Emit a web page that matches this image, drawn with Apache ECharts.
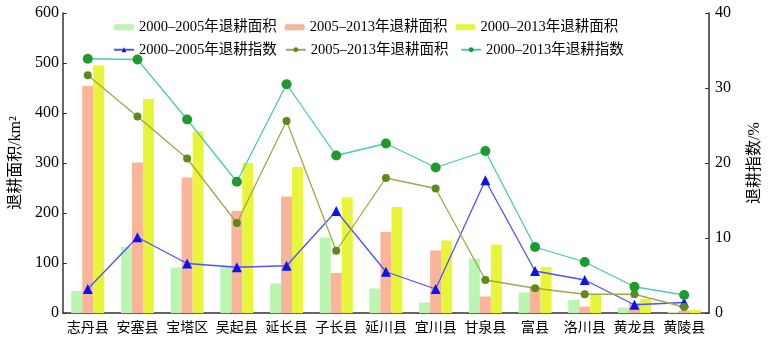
<!DOCTYPE html>
<html><head><meta charset="utf-8">
<script src="https://cdn.jsdelivr.net/npm/echarts@6/dist/echarts.min.js"></script>
<style>html,body{margin:0;padding:0;background:#fff}#c{width:771px;height:349px}</style>
</head><body><div id="c"></div>
<script>
const categories = ['志丹县','安塞县','宝塔区','吴起县','延长县','子长县','延川县','宜川县','甘泉县','富县','洛川县','黄龙县','黄陵县'];
const area0005 = [44,132,91,95,59,151,49,21,109,41,26,11,2];
const area0513 = [454,301,271,204,233,80,162,125,33,53,13,20,5];
const area0013 = [495,428,363,300,292,231,212,145,137,92,38,28,6];
const idx0005 = [3.2,10.1,6.6,6.1,6.3,13.6,5.5,3.2,17.7,5.6,4.4,1.1,1.4];
const idx0513 = [31.7,26.2,20.6,12.0,25.6,8.3,18.0,16.6,4.4,3.3,2.5,2.5,0.8];
const idx0013 = [33.9,33.8,25.8,17.5,30.5,21.0,22.6,19.4,21.6,8.8,6.8,3.5,2.4];
const leftTicks = {min:0,max:600,interval:100};
const rightTicks = {min:0,max:40,interval:10};
const names = ['2000–2005年退耕面积','2005–2013年退耕面积','2000–2013年退耕面积','2000–2005年退耕指数','2005–2013年退耕面积 ','2000–2013年退耕指数'];

const FONT = '"Liberation Serif","Noto Sans CJK SC",serif';
const chart = echarts.init(document.getElementById('c'));
const barCommon = {type:'bar', yAxisIndex:0, barWidth:11, barGap:'0%'};
chart.setOption({
  animation:false,
  textStyle:{fontFamily:FONT,color:'#000'},
  legend:{
    left:108, top:15, width:520, itemGap:8, itemWidth:20, itemHeight:6,
    textStyle:{fontFamily:FONT,fontSize:14.5,color:'#000'},
    data:[
      {name:names[0]},{name:names[1]},{name:names[2]},
      {name:names[3]},{name:names[4]},{name:names[5]}
    ]
  },
  grid:{left:62,right:58,top:13,bottom:36},
  xAxis:{
    type:'category', data:categories,
    axisLine:{lineStyle:{color:'#333',width:1.5}},
    axisTick:{inside:true,length:5,lineStyle:{color:'#333'}},
    axisLabel:{fontFamily:FONT,fontSize:14,color:'#000',margin:8,interval:0}
  },
  yAxis:[
    {type:'value', ...leftTicks, name:'退耕面积/km²', nameLocation:'middle', nameGap:38, nameRotate:90,
     nameTextStyle:{fontFamily:FONT,fontSize:16,color:'#000'},
     axisLine:{show:true,lineStyle:{color:'#333',width:1.5}},
     axisTick:{show:true,inside:true,length:4,lineStyle:{color:'#333'}},
     splitLine:{show:false},
     axisLabel:{fontFamily:FONT,fontSize:16,color:'#000',margin:4}},
    {type:'value', ...rightTicks, name:'退耕指数/%', nameLocation:'middle', nameGap:38, nameRotate:90,
     nameTextStyle:{fontFamily:FONT,fontSize:16,color:'#000'},
     axisLine:{show:true,lineStyle:{color:'#333',width:1.5}},
     axisTick:{show:true,inside:true,length:4,lineStyle:{color:'#333'}},
     splitLine:{show:false},
     axisLabel:{fontFamily:FONT,fontSize:16,color:'#000',margin:6}}
  ],
  series:[
    {...barCommon, name:names[0], data:area0005, itemStyle:{color:'#baf5b2'}},
    {...barCommon, name:names[1], data:area0513, itemStyle:{color:'#f8b59a'}},
    {...barCommon, name:names[2], data:area0013, itemStyle:{color:'#e8f53a'}},
    {type:'line', yAxisIndex:1, name:names[3], data:idx0005, symbol:'triangle', symbolSize:10,
     lineStyle:{color:'#5050ff',width:1.3}, itemStyle:{color:'#0a14f0'}},
    {type:'line', yAxisIndex:1, name:names[4], data:idx0513, symbol:'circle', symbolSize:8,
     lineStyle:{color:'#a0a848',width:1.3}, itemStyle:{color:'#5f8a1a'}},
    {type:'line', yAxisIndex:1, name:names[5], data:idx0013, symbol:'circle', symbolSize:10,
     lineStyle:{color:'#48c8c0',width:1.3}, itemStyle:{color:'#1f9a2c'}}
  ]
});
</script></body></html>
